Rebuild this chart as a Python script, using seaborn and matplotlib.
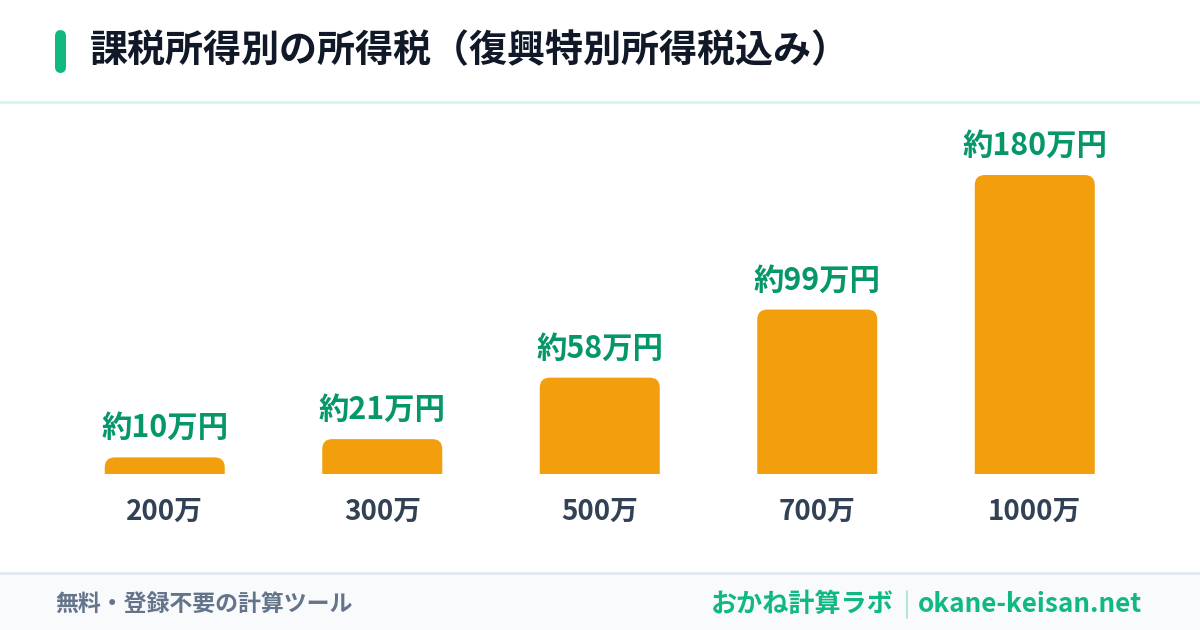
import matplotlib
matplotlib.use("Agg")
import matplotlib.pyplot as plt
import seaborn as sns
import pandas as pd
from matplotlib.patches import FancyBboxPatch, Rectangle
from matplotlib.lines import Line2D

# data
incomes   = ["200万", "300万", "500万", "700万", "1000万"]
tax_man   = [10, 21, 58, 99, 180]
tax_label = ["約10万円", "約21万円", "約58万円", "約99万円", "約180万円"]

TITLE  = "課税所得別の所得税（復興特別所得税込み）"
FOOT_L = "無料・登録不要の計算ツール"
FOOT_R1 = "おかね計算ラボ"
FOOT_R2 = "okane-keisan.net"

BAR    = "#f39e0c"
GREEN  = "#059669"
ACCENT = "#10b981"
INK    = "#111827"
SLATE  = "#334155"
GREY   = "#64748b"

sns.set_theme(style="white")
plt.rcParams["font.family"] = ["Noto Sans CJK JP", "DejaVu Sans"]

W, H = 1200, 630
fig = plt.figure(figsize=(W / 100, H / 100), dpi=100)
fig.patch.set_facecolor("white")

# header / footer decoration (figure pixel coords -> fractions)
def fx(px): return px / W
def fy(py): return 1 - py / H

fig.patches.append(FancyBboxPatch((fx(55), fy(73)), fx(11), fy(30) - fy(73),
                                  boxstyle="round,pad=0,rounding_size=0.005",
                                  mutation_aspect=W / H,
                                  transform=fig.transFigure, facecolor=ACCENT,
                                  edgecolor="none"))
fig.text(fx(90), fy(51), TITLE, fontsize=27.4, fontweight="bold", color=INK,
         ha="left", va="center")
fig.add_artist(Line2D([0, 1], [fy(102), fy(102)], transform=fig.transFigure,
                      color="#d1fae5", linewidth=2))

fig.patches.append(Rectangle((0, 0), 1, fy(573), transform=fig.transFigure,
                             facecolor="#f8fafc", edgecolor="none"))
fig.add_artist(Line2D([0, 1], [fy(573), fy(573)], transform=fig.transFigure,
                      color="#e2e8f0", linewidth=2))
fig.text(fx(55), fy(604), FOOT_L, fontsize=16.5, fontweight="bold", color=GREY,
         ha="left", va="center")
fig.text(fx(1142), fy(604), FOOT_R2, fontsize=18.8, fontweight="bold",
         color=ACCENT, ha="right", va="center")
fig.text(fx(894), fy(604), FOOT_R1, fontsize=18.8, fontweight="bold",
         color=ACCENT, ha="right", va="center")
fig.add_artist(Line2D([fx(907), fx(907)], [fy(591), fy(618)],
                      transform=fig.transFigure, color="#a7e3cc", linewidth=1.2))

# bar chart
left, right = 56, 56 + 1087.5
base, top = 474, 110
ax = fig.add_axes([fx(left), fy(base), fx(right) - fx(left), fy(top) - fy(base)])
df = pd.DataFrame({"income": incomes, "tax": tax_man})
sns.barplot(data=df, x="income", y="tax", color=BAR, width=120 / 217.5,
            saturation=1, ax=ax)
ax.set_xlim(-0.5, len(incomes) - 0.5)
ax.set_ylim(0, (base - top) / 1.661)

# round the top corners of each bar
x_per_px = 1.0 / (ax.transData.transform((1, 0))[0] - ax.transData.transform((0, 0))[0])
y_per_px = 1.0 / (ax.transData.transform((0, 1))[1] - ax.transData.transform((0, 0))[1])
aspect = y_per_px / x_per_px
radius = 10 * x_per_px
for p in list(ax.patches):
    x0, w, h = p.get_x(), p.get_width(), p.get_height()
    p.remove()
    extra = 30 * y_per_px
    ax.add_patch(FancyBboxPatch((x0, -extra), w, h + extra,
                                boxstyle=f"round,pad=0,rounding_size={radius}",
                                mutation_aspect=aspect, facecolor=BAR,
                                edgecolor="none"))

for i, (v, lab) in enumerate(zip(tax_man, tax_label)):
    ax.annotate(lab, (i, v), xytext=(0, 21), textcoords="offset points",
                ha="center", va="center", fontsize=21.9, fontweight="bold",
                color=GREEN)

ax.set_xlabel("")
ax.set_ylabel("")
ax.set_yticks([])
ax.tick_params(axis="x", length=0, pad=17, labelsize=20, labelcolor=SLATE)
for t in ax.get_xticklabels():
    t.set_fontweight("bold")
ax.patch.set_alpha(0)
sns.despine(ax=ax, left=True, bottom=True)

fig.savefig("out.png", dpi=100)
